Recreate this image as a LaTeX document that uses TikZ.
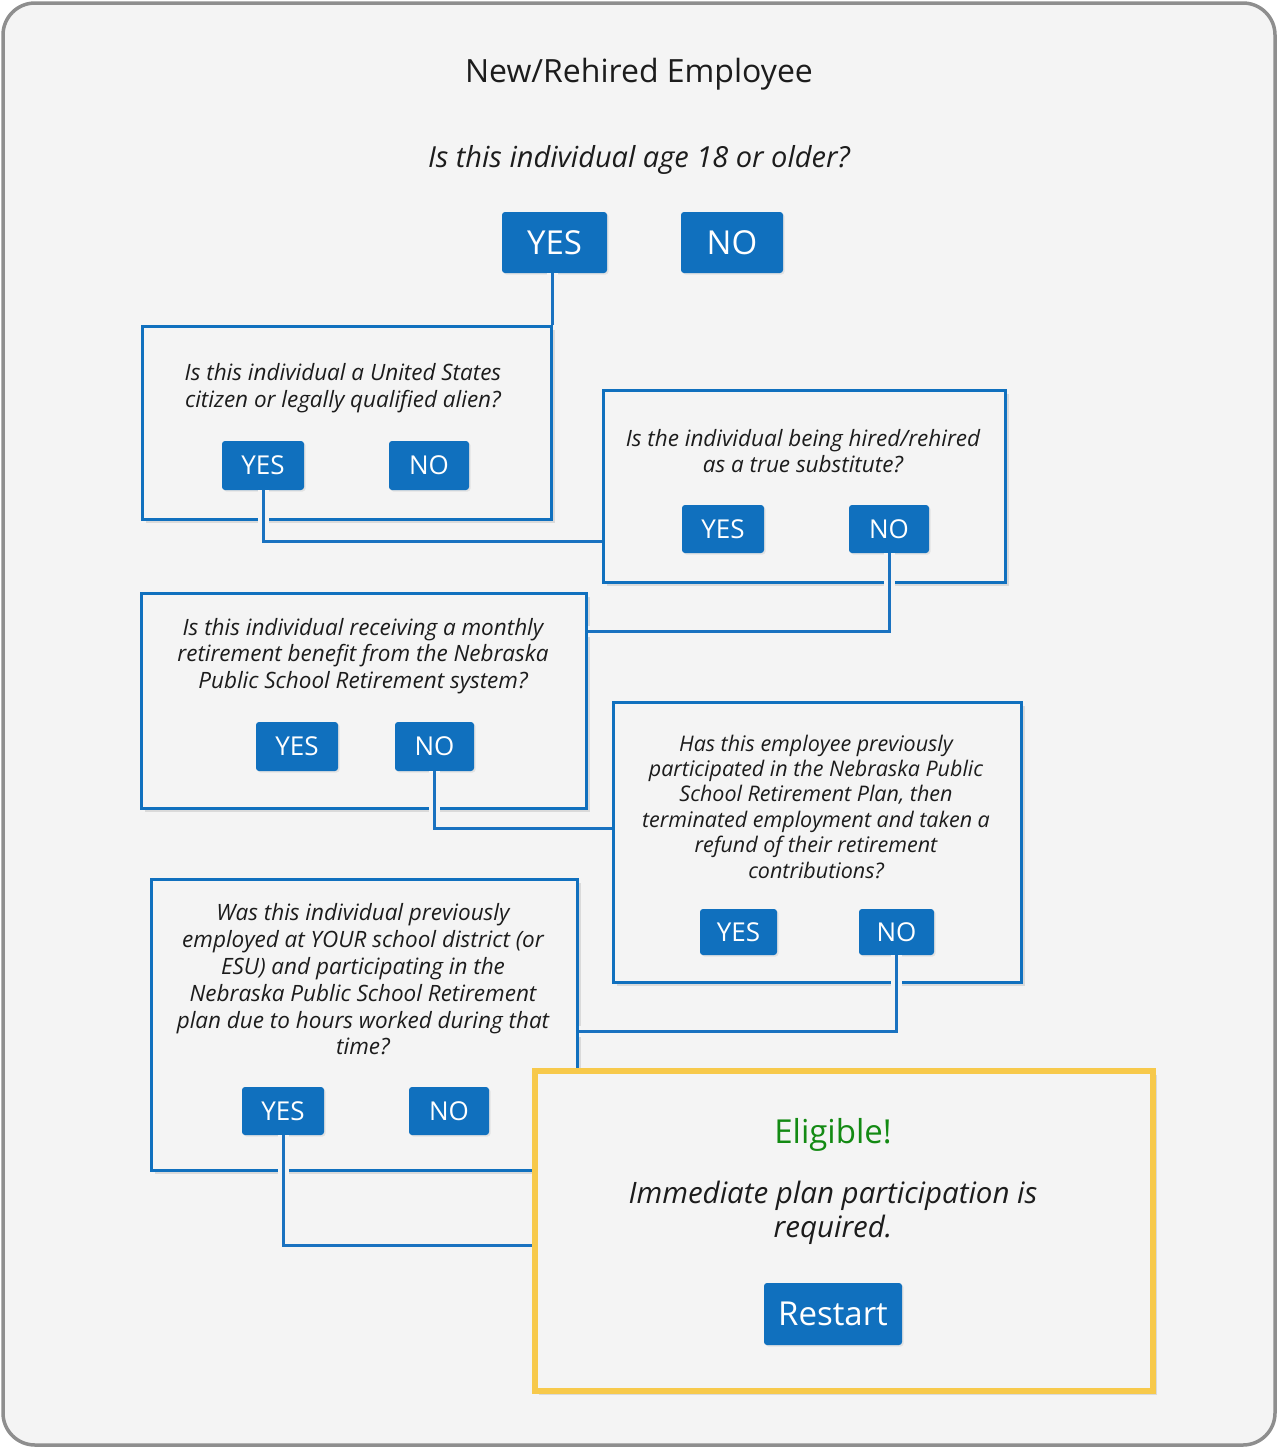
\documentclass[tikz,border=0pt]{standalone}
\usepackage{fontspec}
\setmainfont{Open Sans}
\usetikzlibrary{positioning, shadows}
\definecolor{NpersBlue}{HTML}{1070BE}
\definecolor{NpersLine}{HTML}{1A72C0}
\definecolor{NpersGold}{HTML}{F7C94B}
\definecolor{NpersGreen}{HTML}{138A13}
\definecolor{PageGray}{HTML}{F4F4F4}
\definecolor{FrameGray}{HTML}{8E8E8E}
\definecolor{InkGray}{HTML}{1C1C1C}

\begin{document}
\begin{tikzpicture}[x=1pt, y=-1pt,
	every node/.style={align=center, text=InkGray, inner sep=0pt},
	qbox/.style={draw=NpersBlue, line width=3pt, fill=PageGray, rectangle, drop shadow={opacity=0.22, shadow xshift=4pt, shadow yshift=-4pt}},
	btn/.style={fill=NpersBlue, text=white, rounded corners=3pt, minimum width=82pt, minimum height=49pt, font=\fontsize{26}{26}\selectfont, drop shadow={opacity=0.15, shadow xshift=1.5pt, shadow yshift=-1.5pt}},
	bigbtn/.style={btn, minimum height=61pt, font=\fontsize{33}{33}\selectfont},
	ask/.style={font=\fontsize{22.5}{26.5}\selectfont\itshape},
	link/.style={draw=NpersLine, line width=3pt, preaction={draw=PageGray, line width=11pt}}
]
	\useasboundingbox (0,0) rectangle (1278,1448);
	\fill[PageGray, draw=FrameGray, line width=3.5pt, rounded corners=32pt] (3,3) rectangle (1275,1445);

	\node (title) at (639,74) [font=\fontsize{32}{38}\selectfont] {New/Rehired Employee};
	\node (ask0) at (639,160) [font=\fontsize{29}{34}\selectfont\itshape] {Is this individual age 18 or older?};
	\node (yes0) [bigbtn, minimum width=105pt] at (554.5,242.5) {YES};
	\node (no0) [bigbtn, minimum width=102pt] at (732,242.5) {NO};

	\node (box1) [qbox, minimum width=409pt, minimum height=193pt] at (346.5,422.5) {};
	\node (ask1) [ask] at (343,388) {Is this individual a United States\\citizen or legally qualified alien?};
	\node (yes1) [btn] at (263,465.5) {YES};
	\node (no1) [btn, minimum width=80pt] at (429,465.5) {NO};

	\node (box2) [qbox, minimum width=402pt, minimum height=192pt] at (804,486) {};
	\node (ask2) [ask] at (803,451) {Is the individual being hired/rehired\\as a true substitute?};
	\node (yes2) [btn, minimum height=48pt] at (723,529) {YES};
	\node (no2) [btn, minimum width=80pt, minimum height=48pt] at (889,529) {NO};

	\node (box3) [qbox, minimum width=445pt, minimum height=215pt] at (363.5,700.5) {};
	\node (ask3) [ask] at (363,656) {Is this individual receiving a monthly\\retirement benefit from the Nebraska\\Public School Retirement system?};
	\node (yes3) [btn] at (297,746.5) {YES};
	\node (no3) [btn, minimum width=79pt] at (434.5,746.5) {NO};

	\node (box4) [qbox, minimum width=408pt, minimum height=280pt] at (817,842) {};
	\node (ask4) [ask, font=\fontsize{21.5}{25.4}\selectfont\itshape] at (816,806.5) {Has this employee previously\\participated in the Nebraska Public\\School Retirement Plan, then\\terminated employment and taken a\\refund of their retirement\\contributions?};
	\node (yes4) [btn, minimum width=77pt, minimum height=46pt] at (738.5,932) {YES};
	\node (no4) [btn, minimum width=75pt, minimum height=46pt] at (896.5,932) {NO};

	\node (box5) [qbox, minimum width=426pt, minimum height=291pt] at (364,1024.5) {};
	\node (ask5) [ask, font=\fontsize{22.5}{26.8}\selectfont\itshape] at (363,979.5) {Was this individual previously\\employed at YOUR school district (or\\ESU) and participating in the\\Nebraska Public School Retirement\\plan due to hours worked during that\\time?};
	\node (yes5) [btn, minimum height=48pt] at (283,1111) {YES};
	\node (no5) [btn, minimum width=80pt, minimum height=48pt] at (449,1111) {NO};

	\node (done) [qbox, draw=NpersGold, line width=6pt, minimum width=618pt, minimum height=320pt] at (844,1231) {};
	\node (eligible) at (833,1135) [text=NpersGreen, font=\fontsize{33}{36}\selectfont] {Eligible!};
	\node (rule) at (833,1213) [font=\fontsize{29.5}{34}\selectfont\itshape] {Immediate plan participation is\\required.};
	\node (restart) [bigbtn, minimum width=138pt, minimum height=62pt] at (833,1314) {Restart};

	\draw[link] (yes0.south -| box1.east) -- (box1.north east);
	\draw[link] (yes1.south) |- ([yshift=-55pt]box2.west);
	\draw[link] (no2.south) |- ([yshift=69.5pt]box3.east);
	\draw[link] (no3.south) |- ([yshift=14pt]box4.west);
	\draw[link] (no4.south) |- ([yshift=-6.5pt]box5.east);
	\draw[link] (yes5.south) |- ([yshift=-14pt]done.west);
\end{tikzpicture}
\end{document}
